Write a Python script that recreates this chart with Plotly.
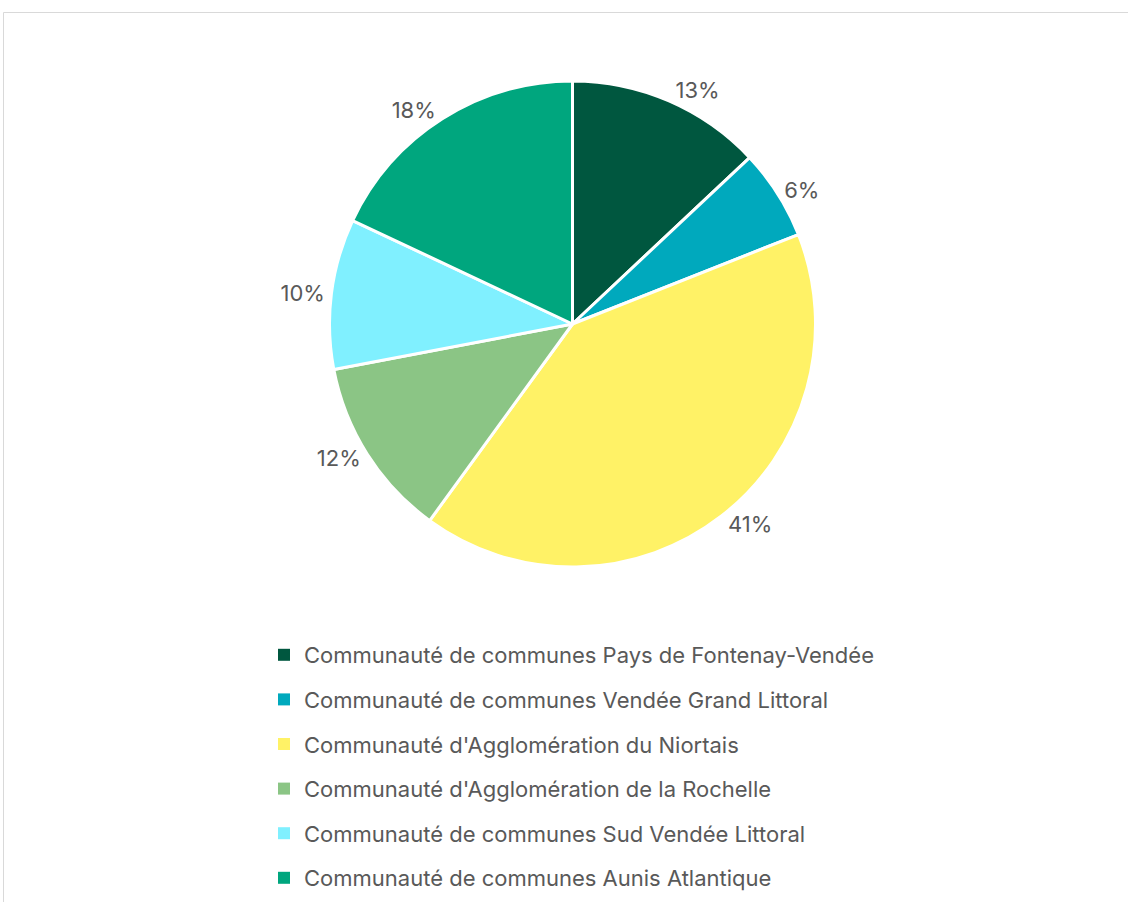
import plotly.graph_objects as go

categories = [
    "Communauté de communes Pays de Fontenay-Vendée",
    "Communauté de communes Vendée Grand Littoral",
    "Communauté d'Agglomération du Niortais",
    "Communauté d'Agglomération de la Rochelle",
    "Communauté de communes Sud Vendée Littoral",
    "Communauté de communes Aunis Atlantique",
]
values = [13, 6, 41, 12, 10, 18]
colors = ["#00573F", "#00A9BD", "#FFF266", "#8BC585", "#80F0FF", "#00A67E"]

W, H = 1128, 902
cx, cy, r = 572.5, 324, 243

fig = go.Figure()
fig.add_trace(go.Pie(
    labels=categories, values=values, sort=False, direction="clockwise",
    rotation=0, marker=dict(colors=colors, line=dict(color="white", width=3)),
    textinfo="percent", texttemplate="%{percent:.0%}", textposition="outside",
    outsidetextfont=dict(family="Inter, Roboto, sans-serif", size=22, color="#595959"),
    domain=dict(x=[(cx - r) / W, (cx + r) / W], y=[1 - (cy + r) / H, 1 - (cy - r) / H]),
    showlegend=False, hoverinfo="label+percent",
))
for i, (c, col) in enumerate(zip(categories, colors)):
    fig.add_trace(go.Scatter(
        x=[None], y=[None], mode="markers", name=c, legendgroup=f"g{i}",
        marker=dict(symbol="square", size=9, color=col),
    ))

fig.update_layout(
    width=W, height=H, margin=dict(l=0, r=0, t=0, b=0),
    paper_bgcolor="white", plot_bgcolor="white",
    xaxis=dict(visible=False), yaxis=dict(visible=False),
    legend=dict(x=264 / W, y=1 - 634 / H, xanchor="left", yanchor="top",
                traceorder="grouped", tracegroupgap=13, itemsizing="constant",
                font=dict(family="Inter, Roboto, sans-serif", size=22, color="#595959")),
    shapes=[dict(type="rect", xref="paper", yref="paper",
                 x0=3.5 / W, x1=1.05, y0=-0.05, y1=1 - 12.5 / H,
                 line=dict(color="#D9D9D9", width=1), fillcolor="rgba(0,0,0,0)", layer="below")],
)
fig.write_html("out.html", config={"displayModeBar": False},
               post_script="document.body.style.margin='0';")
